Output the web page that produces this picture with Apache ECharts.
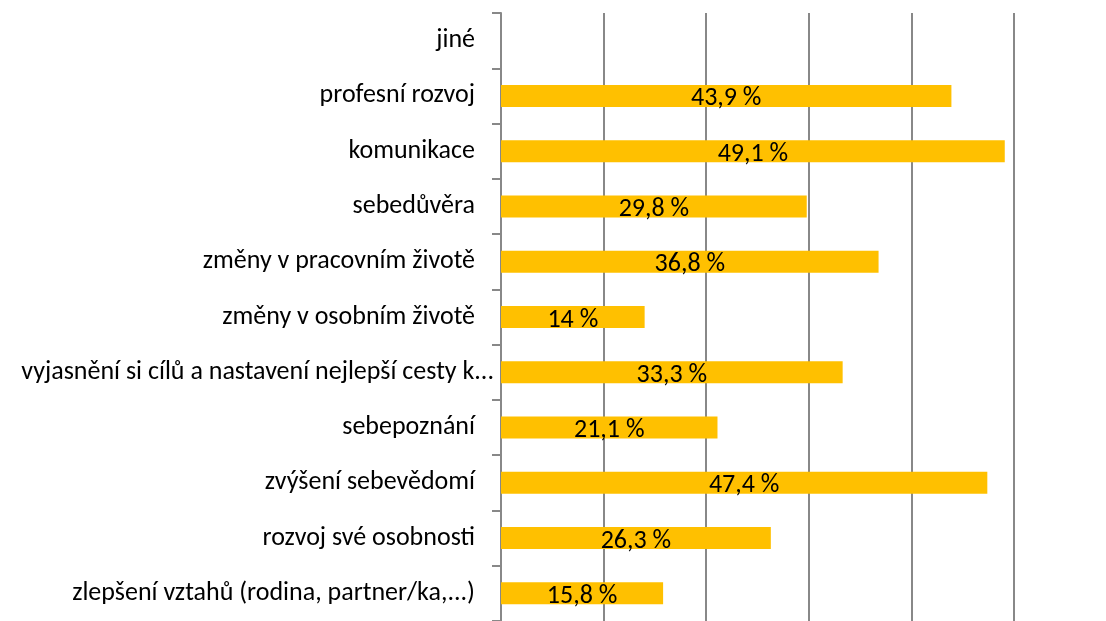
<!DOCTYPE html>
<html>
<head>
<meta charset="utf-8">
<script src="https://cdn.jsdelivr.net/npm/echarts@6/dist/echarts.min.js"></script>
<style>html,body{margin:0;padding:0;background:#fff;}#c{width:1106px;height:621px;}</style>
</head>
<body>
<div id="c"></div>
<script>
const categories = [
  'zlepšení vztahů (rodina, partner/ka,...)',
  'rozvoj své osobnosti',
  'zvýšení sebevědomí',
  'sebepoznání',
  'vyjasnění si cílů a nastavení nejlepší cesty k...',
  'změny v osobním životě',
  'změny v pracovním životě',
  'sebedůvěra',
  'komunikace',
  'profesní rozvoj',
  'jiné'
];
const values = [15.8, 26.3, 47.4, 21.1, 33.3, 14, 36.8, 29.8, 49.1, 43.9, null];
const xTicks = { min: 0, max: 50, interval: 10 };

const axisData = categories.map(c => c.length > 45
  ? { value: c, textStyle: { padding: [0, -19, 0, 0] } }
  : c);

const chart = echarts.init(document.getElementById('c'), null, { renderer: 'canvas' });
chart.setOption({
  animation: false,
  backgroundColor: '#fff',
  grid: { left: 501, right: 92, top: 13, height: 612.7, containLabel: false },
  xAxis: {
    type: 'value', min: xTicks.min, max: xTicks.max, interval: xTicks.interval,
    axisLabel: { show: false }, axisLine: { show: false }, axisTick: { show: false },
    splitLine: { show: true, lineStyle: { color: '#888', width: 2 } }
  },
  yAxis: {
    type: 'category', data: axisData,
    axisLine: { show: true, lineStyle: { color: '#888', width: 2 } },
    axisTick: { show: true, length: 9, lineStyle: { color: '#888', width: 2 } },
    axisLabel: { color: '#000', fontSize: 26, margin: 26, fontFamily: 'Carlito, "Open Sans", sans-serif' }
  },
  series: [{
    type: 'bar', data: values, barWidth: 22,
    itemStyle: { color: '#FFC000' },
    label: {
      show: true, position: 'inside', color: '#000', fontSize: 26, offset: [0, 3],
      fontFamily: 'Carlito, "Open Sans", sans-serif',
      formatter: p => p.value == null ? '' : String(p.value).replace('.', ',') + ' %'
    }
  }]
});
</script>
</body>
</html>
